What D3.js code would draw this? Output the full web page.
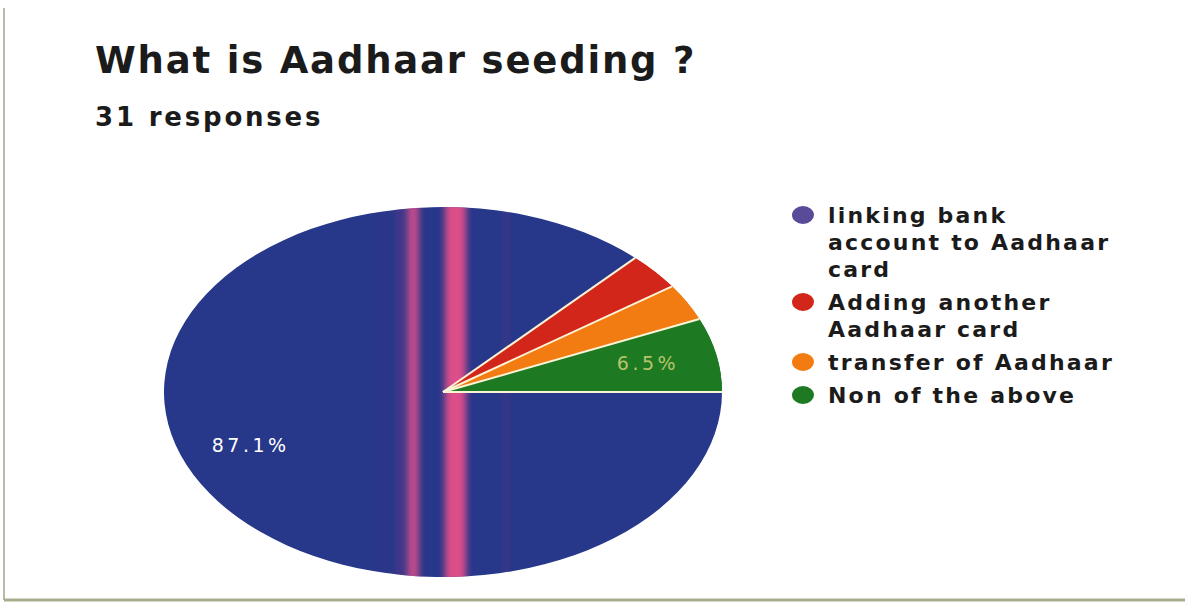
<!DOCTYPE html>
<html>
<head>
<meta charset="utf-8">
<script src="https://cdn.jsdelivr.net/npm/d3@7"></script>
<style>
  body { margin: 0; background: #fff; }
  svg { display: block; font-family: "DejaVu Sans", sans-serif; }
</style>
</head>
<body>
<div id="chart"></div>
<script>
// data (31 responses)
var categories = ["linking bank account to Aadhaar card", "Adding another Aadhaar card", "transfer of Aadhaar", "Non of the above"];
var counts = [27, 1, 1, 2];
var colors = ["#27378a", "#d3261b", "#f27c12", "#1d7a22"];
var legendLines = [["linking bank", "account to Aadhaar", "card"], ["Adding another", "Aadhaar card"], ["transfer of Aadhaar"], ["Non of the above"]];

var width = 1185, height = 602;

var svg = d3.select("#chart").append("svg")
  .attr("width", width)
  .attr("height", height);

// scan frame
svg.append("line").attr("x1", 4).attr("x2", 4).attr("y1", 8).attr("y2", 600)
  .attr("stroke", "#b9bca0").attr("stroke-width", 2);
svg.append("line").attr("x1", 4).attr("x2", 1185).attr("y1", 600).attr("y2", 600)
  .attr("stroke", "#a9ac8c").attr("stroke-width", 3);

svg.append("text")
  .attr("x", 95).attr("y", 73)
  .attr("font-size", 37).attr("font-weight", "bold")
  .attr("fill", "#1b1b1b")
  .style("letter-spacing", "1.8px")
  .text("What is Aadhaar seeding ?");

svg.append("text")
  .attr("x", 95).attr("y", 126)
  .attr("font-size", 26).attr("font-weight", "bold")
  .attr("fill", "#1b1b1b")
  .style("letter-spacing", "2.8px")
  .text(d3.sum(counts) + " responses");

// pie, squashed into an ellipse like the scan
var cx = 443, cy = 392, rx = 279, ry = 185;
var total = d3.sum(counts);

var pie = d3.pie().sort(null)
  .startAngle(Math.PI / 2)
  .endAngle(Math.PI / 2 + 2 * Math.PI);
var arcs = pie(counts);
var arc = d3.arc().innerRadius(0).outerRadius(rx);

var defs = svg.append("defs");
defs.append("clipPath").attr("id", "pieclip")
  .append("ellipse").attr("cx", cx).attr("cy", cy).attr("rx", rx).attr("ry", ry);
defs.append("filter").attr("id", "soft").attr("x", "-50%").attr("width", "200%")
  .append("feGaussianBlur").attr("stdDeviation", "3.5 0");

var squash = "translate(" + cx + "," + cy + ") scale(1," + (ry / rx) + ")";

svg.append("g").attr("transform", squash)
  .selectAll("path")
  .data(arcs)
  .enter()
  .append("path")
    .attr("d", arc)
    .attr("fill", (d, i) => colors[i]);

// scanner streaks on the pie
var streakDefs = [[380, 5, "#4a3a8a", 0.35], [396, 7, "#6a3a8a", 0.55], [407, 12, "#e0508a", 0.85], [445, 21, "#e8508a", 0.95], [503, 6, "#5a3a8a", 0.45]];
svg.append("g").attr("clip-path", "url(#pieclip)")
  .selectAll("rect")
  .data(streakDefs)
  .enter()
  .append("rect")
    .attr("x", d => d[0]).attr("width", d => d[1])
    .attr("y", cy - ry - 5).attr("height", 2 * ry + 10)
    .attr("fill", d => d[2]).attr("opacity", d => d[3])
    .attr("filter", "url(#soft)");

// small slices again on top so the streaks stay behind their tips
svg.append("g").attr("transform", squash)
  .selectAll("path")
  .data(arcs.slice(1))
  .enter()
  .append("path")
    .attr("d", arc)
    .attr("fill", (d, i) => colors[i + 1]);

// slice separators (radial edges only)
svg.append("g").attr("transform", "translate(" + cx + "," + cy + ")")
  .selectAll("line")
  .data(arcs)
  .enter()
  .append("line")
    .attr("x1", 0).attr("y1", 0)
    .attr("x2", d => Math.sin(d.startAngle) * rx)
    .attr("y2", d => -Math.cos(d.startAngle) * ry)
    .attr("stroke", "#fbf4d6")
    .attr("stroke-width", 2);

// percentage labels on slices big enough
var labelArc = d3.arc().innerRadius(rx * 0.75).outerRadius(rx * 0.75);
var labelColors = ["#ffffff", null, null, "#b9c26a"];
svg.append("g")
  .attr("transform", "translate(" + cx + "," + cy + ")")
  .selectAll("text")
  .data(arcs.filter((d, i) => labelColors[i]))
  .enter()
  .append("text")
    .attr("transform", d => {
      var c = labelArc.centroid(d);
      return "translate(" + c[0] + "," + (c[1] * ry / rx) + ")";
    })
    .attr("text-anchor", "middle")
    .attr("dominant-baseline", "middle")
    .attr("font-size", 19)
    .style("letter-spacing", "3.5px")
    .attr("fill", d => labelColors[d.index])
    .text(d => d3.format(".1f")(d.value / total * 100) + "%");

// legend
var lineH = 27;
var lg = svg.append("g").attr("transform", "translate(803,215)");
var yPos = 0;
legendLines.forEach(function (lines, i) {
  var item = lg.append("g").attr("transform", "translate(0," + yPos + ")");
  item.append("ellipse").attr("rx", 11).attr("ry", 9).attr("fill", i === 0 ? "#5a4a9a" : colors[i]);
  item.selectAll("text")
    .data(lines)
    .enter()
    .append("text")
      .attr("x", 25)
      .attr("y", (d, j) => 8 + j * lineH)
      .attr("font-size", 22).attr("font-weight", "bold")
      .attr("fill", "#1b1b1b")
      .style("letter-spacing", "2.2px")
      .text(d => d);
  yPos += lines.length * lineH + 6;
});
</script>
</body>
</html>
